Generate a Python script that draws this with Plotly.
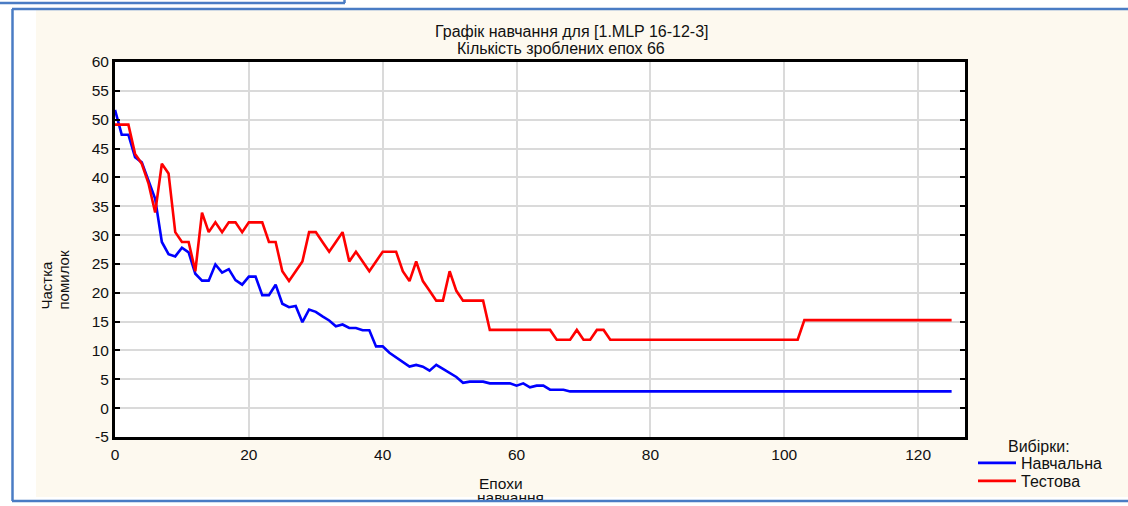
import plotly.graph_objects as go

W, H = 1128, 506

epochs = list(range(0, 126))

train_err = [
    51.7, 47.4, 47.4, 43.5, 42.6, 39.5, 36.3, 28.8, 26.7, 26.3,
    27.8, 27.0, 23.3, 22.1, 22.1, 24.9, 23.5, 24.1, 22.2, 21.4,
    22.8, 22.8, 19.6, 19.6, 21.4, 18.1, 17.5, 17.7, 14.9, 17.1,
    16.7, 15.9, 15.2, 14.2, 14.5, 13.9, 13.9, 13.5, 13.5, 10.7,
    10.7, 9.6, 8.8, 8.1, 7.2, 7.5, 7.2, 6.5, 7.5, 6.8,
    6.1, 5.4, 4.4, 4.6, 4.6, 4.6, 4.3, 4.3, 4.3, 4.3,
    3.9, 4.3, 3.6, 3.9, 3.9, 3.2, 3.2, 3.2,
] + [2.9] * 58

test_err = [
    49.15, 49.15, 49.15, 44.07, 42.37, 38.98, 33.90, 42.37, 40.68, 30.51,
    28.81, 28.81, 23.73, 33.90, 30.51, 32.20, 30.51, 32.20, 32.20, 30.51,
    32.20, 32.20, 32.20, 28.81, 28.81, 23.73, 22.03, 23.73, 25.42, 30.51,
    30.51, 28.81, 27.12, 28.81, 30.51, 25.42, 27.12, 25.42, 23.73, 25.42,
    27.12, 27.12, 27.12, 23.73, 22.03, 25.42, 22.03, 20.34, 18.64, 18.64,
    23.73, 20.34, 18.64, 18.64, 18.64, 18.64, 13.56, 13.56, 13.56, 13.56,
    13.56, 13.56, 13.56, 13.56, 13.56, 13.56, 11.86, 11.86, 11.86, 13.56,
    11.86, 11.86, 13.56, 13.56, 11.86,
] + [11.86] * 28 + [15.25] * 23

series_names = ["Навчальна", "Тестова"]
series_colors = ["#0000FF", "#FF0000"]
x_ticks = [0, 20, 40, 60, 80, 100, 120]
y_ticks = list(range(-5, 61, 5))
y_tick_labels = [str(v) for v in y_ticks]

title_line1 = "Графік навчання для [1.MLP 16-12-3]"
title_line2 = "Кількість зроблених епох 66"
y_title = ["Частка", "помилок"]
x_title = ["Епохи", "навчання"]
legend_title = "Вибірки:"

FONT = "Liberation Sans, Arial, sans-serif"
TXT = "#111111"
CREAM = "#FDF9EF"
FRAME = "#4A7CC4"

# plot area in pixels
PL, PR, PT, PB = 115, 965, 62, 437


def px(x):
    return x / W


def py(y):
    return (H - y) / H


fig = go.Figure()
fig.add_trace(go.Scatter(x=epochs, y=train_err, mode="lines", name=series_names[0],
                         line=dict(color=series_colors[0], width=2.6), legend="legend"))
fig.add_trace(go.Scatter(x=epochs, y=test_err, mode="lines", name=series_names[1],
                         line=dict(color=series_colors[1], width=2.6), legend="legend2"))

# second line of x title, clipped by the frame like in the original
fig.add_trace(go.Scatter(x=[477], y=[499], mode="text", text=[x_title[1]],
                         textposition="middle right", showlegend=False,
                         textfont=dict(family=FONT, size=15.5, color=TXT),
                         xaxis="x2", yaxis="y2", cliponaxis=True, hoverinfo="skip"))

shapes = [
    dict(type="rect", xref="paper", yref="paper", x0=px(36), x1=px(1128), y0=py(497), y1=py(9),
         fillcolor=CREAM, line=dict(width=0), layer="below"),
    dict(type="rect", xref="paper", yref="paper", x0=px(PL), x1=px(PR), y0=py(PB), y1=py(PT),
         fillcolor="white", line=dict(width=0), layer="below"),
    dict(type="line", xref="paper", yref="paper", x0=px(12), x1=px(1130), y0=py(9), y1=py(9),
         line=dict(color=FRAME, width=2.5), layer="below"),
    dict(type="line", xref="paper", yref="paper", x0=px(12.5), x1=px(12.5), y0=py(9), y1=py(501),
         line=dict(color=FRAME, width=2.5), layer="below"),
    dict(type="line", xref="paper", yref="paper", x0=px(12), x1=px(1130), y0=py(501), y1=py(501),
         line=dict(color=FRAME, width=2.5), layer="above"),
    dict(type="line", xref="paper", yref="paper", x0=px(-2), x1=px(345), y0=py(3), y1=py(3),
         line=dict(color=FRAME, width=2.5), layer="below"),
    dict(type="line", xref="paper", yref="paper", x0=px(344.5), x1=px(344.5), y0=py(3), y1=py(-2),
         line=dict(color=FRAME, width=2.5), layer="below"),
]

annotations = [
    dict(text=title_line1, x=px(571), y=py(32), xref="paper", yref="paper", showarrow=False,
         xanchor="center", yanchor="middle", font=dict(family=FONT, size=16, color=TXT)),
    dict(text=title_line2, x=px(561), y=py(48), xref="paper", yref="paper", showarrow=False,
         xanchor="center", yanchor="middle", font=dict(family=FONT, size=16, color=TXT)),
    dict(text=y_title[0], x=px(46), y=py(312), xref="paper", yref="paper", showarrow=False,
         xanchor="center", yanchor="bottom", textangle=-90, font=dict(family=FONT, size=15, color=TXT)),
    dict(text=y_title[1], x=px(63), y=py(312), xref="paper", yref="paper", showarrow=False,
         xanchor="center", yanchor="bottom", textangle=-90, font=dict(family=FONT, size=15, color=TXT)),
    dict(text=x_title[0], x=px(477), y=py(483), xref="paper", yref="paper", showarrow=False,
         xanchor="left", yanchor="middle", font=dict(family=FONT, size=15.5, color=TXT)),
    dict(text=legend_title, x=px(1039), y=py(446), xref="paper", yref="paper", showarrow=False,
         xanchor="center", yanchor="middle", font=dict(family=FONT, size=16, color=TXT)),
]

legend_common = dict(
    xanchor="left", yanchor="middle",
    bgcolor="rgba(0,0,0,0)", borderwidth=0,
    font=dict(family=FONT, size=16, color=TXT),
    itemwidth=38,
)

fig.update_layout(
    width=W, height=H,
    margin=dict(l=0, r=0, t=0, b=0, pad=0, autoexpand=False),
    paper_bgcolor="white",
    plot_bgcolor="white",
    font=dict(family=FONT, size=15.5, color=TXT),
    shapes=shapes,
    annotations=annotations,
    showlegend=True,
    legend=dict(x=px(973), y=py(463), **legend_common),
    legend2=dict(x=px(973), y=py(481), **legend_common),
    xaxis=dict(
        domain=[px(PL), px(PR)], range=[0, 127], tickvals=x_ticks, automargin=False,
        showgrid=True, gridcolor="#DADADA", gridwidth=2, zeroline=False,
        showline=True, linecolor="black", linewidth=3, mirror=True,
        ticks="", ticklabelstandoff=1,
        tickfont=dict(family=FONT, size=15.5, color=TXT),
    ),
    yaxis=dict(
        domain=[py(PB), py(PT)], range=[-5, 60], tickvals=y_ticks, ticktext=y_tick_labels,
        automargin=False,
        showgrid=True, gridcolor="#DADADA", gridwidth=2, zeroline=False,
        showline=True, linecolor="black", linewidth=3, mirror="ticks",
        ticks="inside", ticklen=5, tickwidth=2, tickcolor="black",
        tickfont=dict(family=FONT, size=15.5, color=TXT),
    ),
    xaxis2=dict(domain=[0, 1], range=[0, W], visible=False, anchor="y2", automargin=False),
    yaxis2=dict(domain=[py(500), py(485)], range=[500, 485], visible=False, anchor="x2", automargin=False),
)

fig.write_html(
    "out.html",
    config={"displayModeBar": False},
    post_script="document.body.style.margin='0px';document.body.style.padding='0px';",
)
